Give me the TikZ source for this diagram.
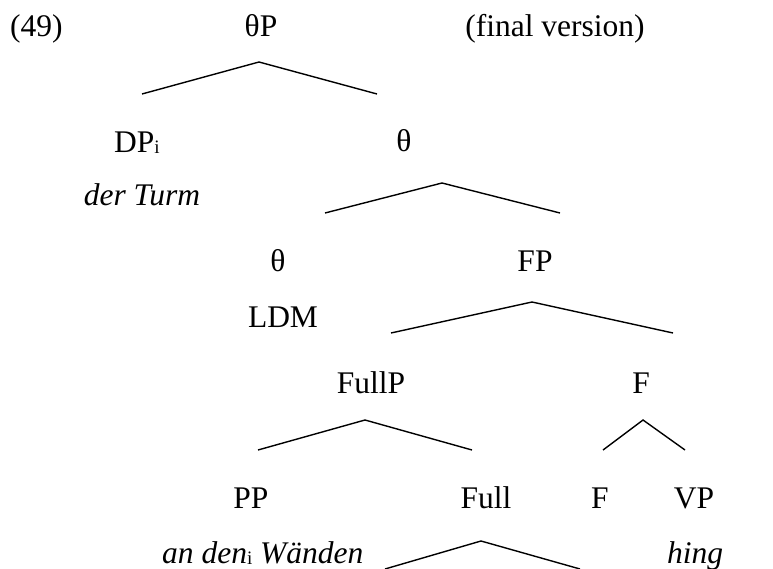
\documentclass[tikz,border=0pt]{standalone}
\usepackage{fontspec}
\setmainfont{Liberation Serif}
% small index letter sitting just under the baseline
\newcommand{\idx}[1]{\raisebox{-1pt}{\upshape\fontsize{19}{20}\selectfont #1}}
\begin{document}
\begin{tikzpicture}[x=1pt,y=-1pt,
  lbl/.style={inner sep=0pt,anchor=base,font=\fontsize{31.5}{38}\selectfont},
  lblw/.style={lbl,anchor=base west},
  branch/.style={line width=1.4pt,line join=miter}]
\useasboundingbox (0,0) rectangle (773,569);

% labels
\node[lblw] (ex)     at (10,37)  {(49)};
\node[lbl]  (thetaP) at (261,37) {θP};
\node[lbl]  (note)   at (555,37) {(final version)};

\node[lblw] (DP)     at (114,153) {DP\idx{i}};
\node[lbl]  (derT)   at (142,206) {\itshape der Turm};
\node[lbl]  (thA)    at (404,152) {θ};

\node[lbl]  (thB)    at (278,272) {θ};
\node[lbl]  (LDM)    at (283,327) {LDM};
\node[lbl]  (FP)     at (535,272) {FP};

\node[lbl]  (FullP)  at (371,393) {FullP};
\node[lbl]  (Fbar)   at (641,393) {F};

\node[lbl]  (PP)     at (251,508) {PP};
\node[lbl]  (Full)   at (486,508) {Full};
\node[lbl]  (Fhead)  at (600,508) {F};
\node[lbl]  (VP)     at (694,508) {VP};

\node[lblw] (anden)  at (162,563) {\itshape an den\idx{i} Wänden};
\node[lbl]  (hing)   at (695,563) {\itshape hing};

% branch points
\coordinate (tP-top) at (259,62);  \coordinate (tP-l) at (142,94);  \coordinate (tP-r) at (377,94);
\coordinate (tA-top) at (442,183); \coordinate (tA-l) at (325,213); \coordinate (tA-r) at (560,213);
\coordinate (FP-top) at (532,302); \coordinate (FP-l) at (391,333); \coordinate (FP-r) at (673,333);
\coordinate (FuP-top) at (365,420); \coordinate (FuP-l) at (258,450); \coordinate (FuP-r) at (472,450);
\coordinate (Fb-top) at (643,420); \coordinate (Fb-l) at (603,450); \coordinate (Fb-r) at (685,450);
\coordinate (Fu-top) at (481,541); \coordinate (Fu-l) at (385,569); \coordinate (Fu-r) at (580,569);

% branches
\draw[branch] (tP-l) -- (tP-top) -- (tP-r);
\draw[branch] (tA-l) -- (tA-top) -- (tA-r);
\draw[branch] (FP-l) -- (FP-top) -- (FP-r);
\draw[branch] (FuP-l) -- (FuP-top) -- (FuP-r);
\draw[branch] (Fb-l) -- (Fb-top) -- (Fb-r);
\draw[branch] (Fu-l) -- (Fu-top) -- (Fu-r);
\end{tikzpicture}
\end{document}
